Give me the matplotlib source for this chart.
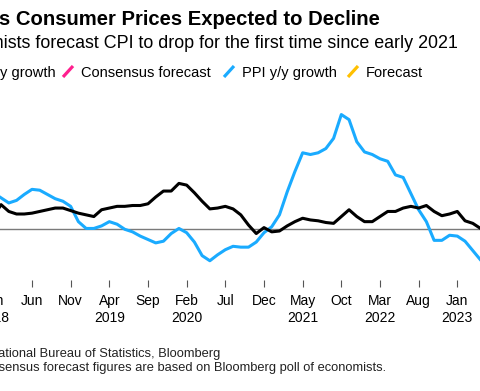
import matplotlib.pyplot as plt
from matplotlib.lines import Line2D

plt.rcParams['font.family'] = ['Liberation Sans', 'DejaVu Sans']

# China CPI and PPI, y/y % change, monthly from Jan 2018 to Jun 2023
month_names = ['Jan', 'Feb', 'Mar', 'Apr', 'May', 'Jun',
               'Jul', 'Aug', 'Sep', 'Oct', 'Nov', 'Dec']
start_year = 2018
cpi = [1.5, 2.9, 2.1, 1.8, 1.8, 1.9, 2.1, 2.3, 2.5, 2.5, 2.2, 1.9,
       1.7, 1.5, 2.3, 2.5, 2.7, 2.7, 2.8, 2.8, 3.0, 3.8, 4.5, 4.5,
       5.4, 5.2, 4.3, 3.3, 2.4, 2.5, 2.7, 2.4, 1.7, 0.5, -0.5, 0.2,
       -0.3, -0.2, 0.4, 0.9, 1.3, 1.1, 1.0, 0.8, 0.7, 1.5, 2.3, 1.5,
       0.9, 0.9, 1.5, 2.1, 2.1, 2.5, 2.7, 2.5, 2.8, 2.1, 1.6, 1.8,
       2.1, 1.0, 0.7, 0.1, 0.2, 0.0]
ppi = [4.3, 3.7, 3.1, 3.4, 4.1, 4.7, 4.6, 4.1, 3.6, 3.3, 2.7, 0.9,
       0.1, 0.1, 0.4, 0.9, 0.6, 0.0, -0.3, -0.8, -1.2, -1.6, -1.4, -0.5,
       0.1, -0.4, -1.5, -3.1, -3.7, -3.0, -2.4, -2.0, -2.1, -2.1, -1.5, -0.4,
       0.3, 1.7, 4.4, 6.8, 9.0, 8.8, 9.0, 9.5, 10.7, 13.5, 12.9, 10.3,
       9.1, 8.8, 8.3, 8.0, 6.4, 6.1, 4.2, 2.3, 0.9, -1.3, -1.3, -0.7,
       -0.8, -1.4, -2.5, -3.6, -4.6, -5.4]
months = list(range(len(cpi)))

legend_labels = ['CPI y/y growth', 'Consensus forecast', 'PPI y/y growth', 'Forecast']
legend_colors = ['#000000', '#ff1f8e', '#1aabff', '#ffc000']

W, H = 480, 391
fig = plt.figure(figsize=(W / 100, H / 100), dpi=100)


def fx(px):
    return px / W


def fy(px):
    return 1 - px / H


# axes placed in pixel terms; the picture is a crop, so the left edge lies off canvas
ax_left, ax_right, ax_top, ax_bot = -20, 520, 95, 280
ax = fig.add_axes([fx(ax_left), fy(ax_bot), (ax_right - ax_left) / W, (ax_bot - ax_top) / H])
px_per_month, jan18_px = 7.733, -6.67
zero_px, px_per_pct = 229.3, 8.5
ax.set_xlim((ax_left - jan18_px) / px_per_month, (ax_right - jan18_px) / px_per_month)
ax.set_ylim(-(ax_bot - zero_px) / px_per_pct, (zero_px - ax_top) / px_per_pct)

ax.axhline(0, color='#7a7a7a', lw=1.0, zorder=1)
ax.plot(months, cpi, color=legend_colors[0], lw=2.2, zorder=3)
ax.plot(months, ppi, color=legend_colors[2], lw=2.2, zorder=2)

tick_pos = list(range(0, 70, 5))
tick_labels = []
seen_years = set()
for m in tick_pos:
    year = start_year + m // 12
    lab = month_names[m % 12]
    if year not in seen_years:
        lab += '\n' + str(year)
        seen_years.add(year)
    tick_labels.append(lab)
ax.set_xticks(tick_pos)
ax.set_xticklabels(tick_labels, fontsize=10, linespacing=1.25, va='top')
ax.tick_params(axis='x', length=5, width=0.8, color='#555555', pad=5)
ax.set_yticks([])
for s in ax.spines.values():
    s.set_visible(False)
ax.patch.set_alpha(0)

text_left = -59
fig.text(fx(text_left - 3), fy(25), "China's Consumer Prices Expected to Decline",
         fontsize=14.6, fontweight='bold', va='baseline')
fig.text(fx(text_left - 3), fy(48), 'Economists forecast CPI to drop for the first time since early 2021',
         fontsize=12.85, va='baseline')

slash_x = [-58, 63, 224, 348]
for x, lab, col in zip(slash_x, legend_labels, legend_colors):
    fig.add_artist(Line2D([fx(x), fx(x + 10)], [fy(77), fy(66)], color=col, lw=2.3,
                          solid_capstyle='butt'))
    fig.text(fx(x + 18), fy(77), lab, fontsize=10.5, va='baseline')

fig.text(fx(text_left), fy(356.7), 'Source: National Bureau of Statistics, Bloomberg',
         fontsize=9.3, va='baseline', color='#222222')
fig.text(fx(text_left), fy(370.7), 'Note: Consensus forecast figures are based on Bloomberg poll of economists.',
         fontsize=9.3, va='baseline', color='#222222')

fig.savefig('out.png', dpi=100)
